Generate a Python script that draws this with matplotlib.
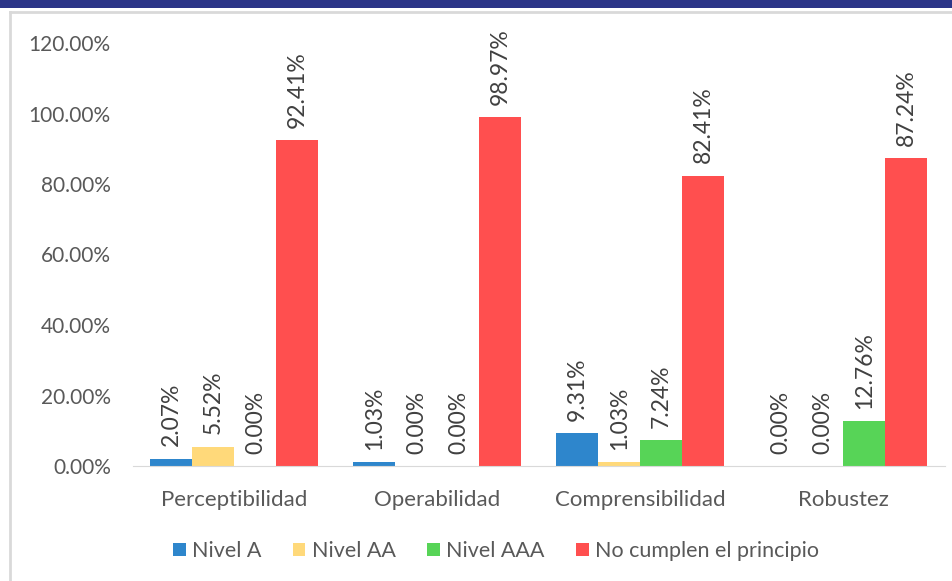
import matplotlib
matplotlib.use("Agg")
import matplotlib.pyplot as plt
import numpy as np
from matplotlib.patches import Rectangle

categories = ["Perceptibilidad", "Operabilidad", "Comprensibilidad", "Robustez"]
series_names = ["Nivel A", "Nivel AA", "Nivel AAA", "No cumplen el principio"]
nivel_a = [2.07, 1.03, 9.31, 0.00]
nivel_aa = [5.52, 0.00, 1.03, 0.00]
nivel_aaa = [0.00, 0.00, 7.24, 12.76]
no_cumplen = [92.41, 98.97, 82.41, 87.24]
yticks = [0, 20, 40, 60, 80, 100, 120]
colors = ["#2e86cc", "#ffd97a", "#57d457", "#ff4f4f"]

plt.rcParams['font.family'] = ['Lato', 'DejaVu Sans']

fig = plt.figure(figsize=(9.53, 5.81), dpi=100)
W, H = 953, 581
# top dark band and frame
fig.patches.append(Rectangle((0, 1 - 8 / H), 1, 8 / H, transform=fig.transFigure,
                             facecolor="#2b3588", edgecolor="none", zorder=0))
fig.add_artist(plt.Line2D([10 / W, 10 / W], [0, 1 - 12 / H], transform=fig.transFigure,
                          color="#d9d9d9", lw=2))
fig.add_artist(plt.Line2D([10 / W, 1], [1 - 12 / H, 1 - 12 / H], transform=fig.transFigure,
                          color="#d9d9d9", lw=2))

ax = fig.add_axes([133 / W, 1 - 466 / H, (945 - 133) / W, (466 - 43) / H])
series = [nivel_a, nivel_aa, nivel_aaa, no_cumplen]
x = np.arange(len(categories))
w = 42 / 203
for j, (vals, name, c) in enumerate(zip(series, series_names, colors)):
    pos = x + (j - 1.5) * w
    ax.bar(pos, vals, width=w, color=c, label=name, zorder=2)
    for p, v in zip(pos, vals):
        ax.annotate(f"{v:.2f}%", (p, v), xytext=(0, 9), textcoords="offset points",
                    rotation=90, ha="center", va="bottom", fontsize=16.5, color="#404040")

ax.set_xlim(-0.5, 3.5)
ax.set_ylim(0, 120)
ax.set_yticks(yticks)
ax.set_yticklabels([f"{t:.2f}%" for t in yticks], fontsize=15, color="#595959")
ax.set_xticks(x)
ax.set_xticklabels(categories, fontsize=16, color="#595959")
ax.tick_params(axis="both", length=0)
ax.tick_params(axis="x", pad=17)
ax.tick_params(axis="y", pad=16)
for s in ["left", "right", "top"]:
    ax.spines[s].set_visible(False)
ax.spines["bottom"].set_color("#d9d9d9")

leg = fig.legend(loc="center", bbox_to_anchor=(496 / W, 1 - 551 / H), bbox_transform=fig.transFigure,
                 ncol=4, frameon=False, fontsize=15.5, handlelength=0.6, handleheight=0.6,
                 handletextpad=0.3, columnspacing=1.45)
for t in leg.get_texts():
    t.set_color("#595959")

fig.savefig("out.png", dpi=100)
